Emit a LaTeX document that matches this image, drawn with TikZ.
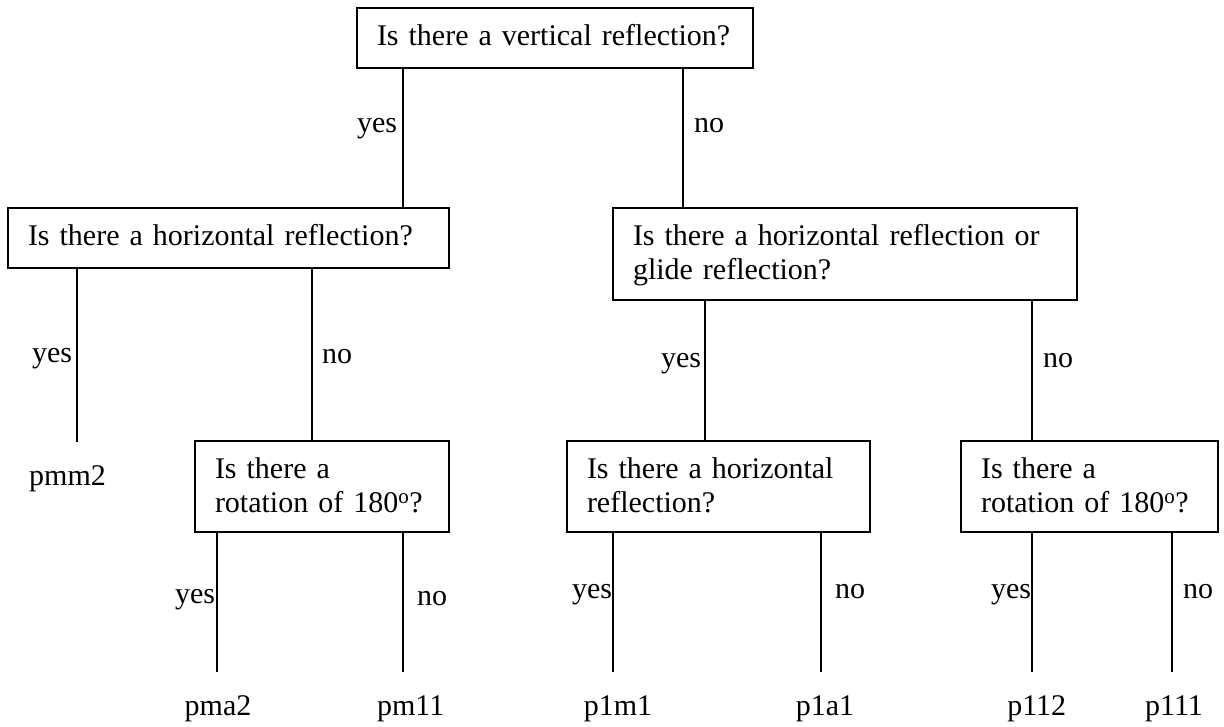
\documentclass[tikz,border=0pt]{standalone}
\usepackage{fontspec}
\setmainfont{Liberation Serif}
\begin{document}
\begin{tikzpicture}[x=1pt,y=-1pt,
  every node/.style={font=\fontsize{30}{34}\selectfont, outer sep=0pt},
  qbox/.style={draw, line width=1.8pt, anchor=north west, inner xsep=20pt, inner ysep=0pt, align=left, text height=22pt},
  leaf/.style={anchor=base, inner xsep=0pt, inner ysep=22pt, text height=21pt, text depth=0pt},
  yesl/.style={anchor=base east, inner sep=0pt},
  nol/.style={anchor=base west, inner sep=0pt},
  link/.style={line width=1.8pt}]
\useasboundingbox (0,0) rectangle (1224,726);

% question boxes
\node[qbox, minimum width=396pt, minimum height=60pt, text width=356pt, text depth=8pt] (top) at (357,8) {\mbox{Is there a vertical reflection?}};
\node[qbox, minimum width=441pt, minimum height=60pt, text width=401pt, text depth=8pt] (L1) at (8,208) {\mbox{Is there a horizontal reflection?}};
\node[qbox, minimum width=464pt, minimum height=92pt, text width=424pt, text depth=40pt] (R1) at (613,208) {\mbox{Is there a horizontal reflection or}\\\mbox{glide reflection?}};
\node[qbox, minimum width=254pt, minimum height=91pt, text width=214pt, text depth=38pt] (L2) at (195,441) {\mbox{Is there a}\\\mbox{rotation of 180\textsuperscript{o}?}};
\node[qbox, minimum width=303pt, minimum height=91pt, text width=263pt, text depth=38pt] (R2) at (567,441) {\mbox{Is there a horizontal}\\\mbox{reflection?}};
\node[qbox, minimum width=257pt, minimum height=91pt, text width=217pt, text depth=38pt] (R3) at (961,441) {\mbox{Is there a}\\\mbox{rotation of 180\textsuperscript{o}?}};

% leaves
\node[leaf] (pmm2) at (67.5,485) {pmm2};
\node[leaf] (pma2) at (218,715) {pma2};
\node[leaf] (pm11) at (410.7,715) {pm11};
\node[leaf] (p1m1) at (618,715) {p1m1};
\node[leaf] (p1a1) at (825,715) {p1a1};
\node[leaf] (p112) at (1036.7,715) {p112};
\node[leaf] (p111) at (1174,715) {p111};

% connectors
\draw[link] (top.south -| 403,0) -- (L1.north -| 403,0);
\draw[link] (top.south -| 683,0) -- (R1.north -| 683,0);
\draw[link] (L1.south -| 77,0) -- (pmm2.north -| 77,0);
\draw[link] (L1.south -| 312,0) -- (L2.north -| 312,0);
\draw[link] (R1.south -| 705,0) -- (R2.north -| 705,0);
\draw[link] (R1.south -| 1032,0) -- (R3.north -| 1032,0);
\draw[link] (L2.south -| 217,0) -- (pma2.north -| 217,0);
\draw[link] (L2.south -| 403,0) -- (pm11.north -| 403,0);
\draw[link] (R2.south -| 613,0) -- (p1m1.north -| 613,0);
\draw[link] (R2.south -| 821,0) -- (p1a1.north -| 821,0);
\draw[link] (R3.south -| 1032,0) -- (p112.north -| 1032,0);
\draw[link] (R3.south -| 1172,0) -- (p111.north -| 1172,0);

% answers
\node[yesl] (y1) at (397,132) {yes};
\node[nol] (n1) at (694,132) {no};
\node[yesl] (y2) at (72,362) {yes};
\node[nol] (n2) at (322,363) {no};
\node[yesl] (y3) at (701,367) {yes};
\node[nol] (n3) at (1043,367) {no};
\node[yesl] (y4) at (215,603) {yes};
\node[nol] (n4) at (417,605) {no};
\node[yesl] (y5) at (612,598) {yes};
\node[nol] (n5) at (835,598) {no};
\node[yesl] (y6) at (1031,598) {yes};
\node[nol] (n6) at (1183,598) {no};
\end{tikzpicture}
\end{document}
